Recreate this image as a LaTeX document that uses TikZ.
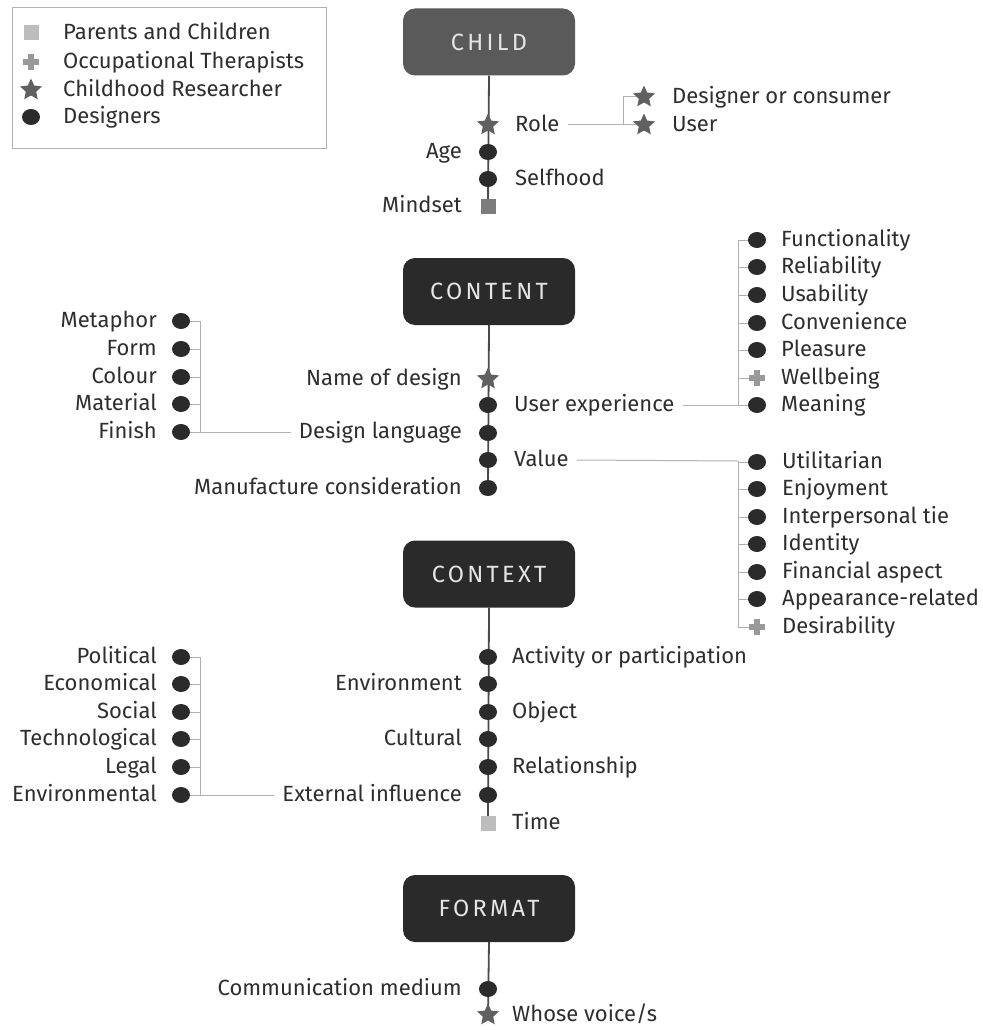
\documentclass[tikz,border=0pt]{standalone}
\usepackage{fontspec}
\setmainfont{Fira Sans}
\usetikzlibrary{shapes.geometric}
\pgfdeclarelayer{bg}
\pgfsetlayers{bg,main}
\definecolor{boxdark}{HTML}{2A2A2A}
\definecolor{boxgray}{HTML}{5A5A5A}
\definecolor{dotc}{HTML}{2B2B2B}
\definecolor{starc}{HTML}{606060}
\definecolor{plusc}{HTML}{999999}
\definecolor{sqlight}{HTML}{BDBDBD}
\definecolor{sqmid}{HTML}{7C7C7C}
\definecolor{spinec}{HTML}{4A4A4A}
\definecolor{branchc}{HTML}{B0B0B0}
\definecolor{txt}{HTML}{2E2E2E}
\begin{document}
\begin{tikzpicture}[x=1pt,y=-1pt,
  catbox/.style={rounded corners=12pt, fill=boxdark, minimum width=172pt, minimum height=67pt, inner sep=0pt,
    text=white!90!black, font=\fontsize{23.5}{26}\selectfont\addfontfeatures{LetterSpace=14}},
  dotm/.style={ellipse, fill=dotc, inner sep=0pt, minimum width=18pt, minimum height=16pt},
  starm/.style={star, star points=5, star point ratio=2.1, fill=starc, inner sep=0pt, minimum size=23pt},
  sqm/.style={rectangle, inner sep=0pt, minimum size=15pt, fill=#1},
  plusm/.style={rectangle, inner sep=0pt, minimum size=16pt,
    path picture={\fill[plusc] ([xshift=-3pt]path picture bounding box.south) rectangle ([xshift=3pt]path picture bounding box.north);
                  \fill[plusc] ([yshift=-3pt]path picture bounding box.west) rectangle ([yshift=3pt]path picture bounding box.east);}},
  lbl/.style={inner sep=0pt, text=txt, font=\fontsize{22}{25}\selectfont, text height=13pt, text depth=0pt},
  rl/.style={lbl, anchor=west},
  ll/.style={lbl, anchor=east},
  spine/.style={draw=spinec, line width=1.8pt},
  branch/.style={draw=branchc, line width=1pt}
]
\begin{pgfonlayer}{bg}
  \fill[white] (0,0) rectangle (982,1030);
\end{pgfonlayer}
\useasboundingbox (0,0) rectangle (982,1030);

% legend
\node[draw=black!30, line width=0.8pt, minimum width=314pt, minimum height=141pt, inner sep=0pt] (legend) at (169,77.5) {};
\node[sqm=sqlight] (lg1) at (31,33) {};
\node[plusm] (lg2) at (31,62) {};
\node[starm] (lg3) at (31,90) {};
\node[dotm] (lg4) at (31,117) {};
\node[rl] (lg1t) at (63,33) {Parents and Children};
\node[rl] (lg2t) at (63,62) {Occupational Therapists};
\node[rl] (lg3t) at (63,90) {Childhood Researcher};
\node[rl] (lg4t) at (63,117) {Designers};

% CHILD
\node[catbox, fill=boxgray] (child) at (489,42) {CHILD};
\node[starm] (role) at (488,125) {};
\node[dotm] (age) at (488,152) {};
\node[dotm] (self) at (488,179) {};
\node[sqm=sqmid] (mind) at (488,206) {};
\node[rl] (roleT) at (515,125) {Role};
\node[ll] (ageT) at (462,152) {Age};
\node[rl] (selfT) at (515,179) {Selfhood};
\node[ll] (mindT) at (462,206) {Mindset};
\coordinate (rj) at (623,125);
\node[starm] (dc) at (644,97) {};
\node[starm] (user) at (644,125) {};
\node[rl] (dcT) at (672,97) {Designer or consumer};
\node[rl] (userT) at (672,125) {User};

% CONTENT
\node[catbox] (content) at (489,291.5) {CONTENT};
\node[starm] (nod) at (488,379) {};
\node[dotm] (ux) at (488,405) {};
\node[dotm] (dl) at (488,433) {};
\node[dotm] (val) at (488,460) {};
\node[dotm] (mfr) at (488,488) {};
\node[ll] (nodT) at (462,379) {Name of design};
\node[rl] (uxT) at (514,405) {User experience};
\node[ll] (dlT) at (462,432) {Design language};
\node[rl] (valT) at (514,460) {Value};
\node[ll] (mfrT) at (462,488) {Manufacture consideration};

% design language group
\coordinate (fj) at (200,432);
\node[dotm] (met) at (181,321) {};
\node[dotm] (form) at (181,349) {};
\node[dotm] (col) at (181,377) {};
\node[dotm] (mat) at (181,404) {};
\node[dotm] (fin) at (181,432) {};
\node[ll] (metT) at (157,321) {Metaphor};
\node[ll] (formT) at (157,349) {Form};
\node[ll] (colT) at (157,377) {Colour};
\node[ll] (matT) at (157,404) {Material};
\node[ll] (finT) at (157,432) {Finish};

% user experience group
\coordinate (uj) at (738,405);
\node[dotm] (f1) at (757,240) {};
\node[dotm] (f2) at (757,267) {};
\node[dotm] (f3) at (757,295) {};
\node[dotm] (f4) at (757,323) {};
\node[dotm] (f5) at (757,350) {};
\node[plusm] (f6) at (757,378) {};
\node[dotm] (f7) at (757,405) {};
\node[rl] (f1T) at (781,240) {Functionality};
\node[rl] (f2T) at (781,267) {Reliability};
\node[rl] (f3T) at (781,295) {Usability};
\node[rl] (f4T) at (781,323) {Convenience};
\node[rl] (f5T) at (781,350) {Pleasure};
\node[rl] (f6T) at (781,378) {Wellbeing};
\node[rl] (f7T) at (781,405) {Meaning};

% value group
\coordinate (vj) at (738,461);
\node[dotm] (v1) at (757,462) {};
\node[dotm] (v2) at (757,489) {};
\node[dotm] (v3) at (757,517) {};
\node[dotm] (v4) at (757,544) {};
\node[dotm] (v5) at (757,572) {};
\node[dotm] (v6) at (757,599) {};
\node[plusm] (v7) at (757,627) {};
\node[rl] (v1T) at (782,462) {Utilitarian};
\node[rl] (v2T) at (782,489) {Enjoyment};
\node[rl] (v3T) at (782,517) {Interpersonal tie};
\node[rl] (v4T) at (782,544) {Identity};
\node[rl] (v5T) at (782,572) {Financial aspect};
\node[rl] (v6T) at (782,599) {Appearance-related};
\node[rl] (v7T) at (782,627) {Desirability};

% CONTEXT
\node[catbox] (context) at (489,574) {CONTEXT};
\node[dotm] (act) at (488,657) {};
\node[dotm] (env) at (488,684) {};
\node[dotm] (obj) at (488,712) {};
\node[dotm] (cul) at (488,739) {};
\node[dotm] (rel) at (488,767) {};
\node[dotm] (ext) at (488,795) {};
\node[sqm=sqlight] (time) at (488,823) {};
\node[rl] (actT) at (512,657) {Activity or participation};
\node[ll] (envT) at (462,684) {Environment};
\node[rl] (objT) at (512,712) {Object};
\node[ll] (culT) at (462,739) {Cultural};
\node[rl] (relT) at (512,767) {Relationship};
\node[ll] (extT) at (462,795) {External influence};
\node[rl] (timeT) at (512,823) {Time};

% external influence group
\coordinate (ej) at (200,795);
\node[dotm] (p1) at (181,657) {};
\node[dotm] (p2) at (181,684) {};
\node[dotm] (p3) at (181,712) {};
\node[dotm] (p4) at (181,739) {};
\node[dotm] (p5) at (181,767) {};
\node[dotm] (p6) at (181,795) {};
\node[ll] (p1T) at (157,657) {Political};
\node[ll] (p2T) at (157,684) {Economical};
\node[ll] (p3T) at (157,712) {Social};
\node[ll] (p4T) at (157,739) {Technological};
\node[ll] (p5T) at (157,767) {Legal};
\node[ll] (p6T) at (157,795) {Environmental};

% FORMAT
\node[catbox] (format) at (489,908.5) {FORMAT};
\node[dotm] (com) at (488,989) {};
\node[starm] (whose) at (488,1015) {};
\node[ll] (comT) at (462,989) {Communication medium};
\node[rl] (whoseT) at (512,1015) {Whose voice/s};

\begin{pgfonlayer}{bg}
  % spines
  \draw[spine] (child.south) -- (mind.center);
  \draw[spine] (content.south) -- (mfr.center);
  \draw[spine] (context.south) -- (time.center);
  \draw[spine] (format.south) -- (whose.center);
  % role branch
  \draw[branch] ([xshift=8pt]roleT.east) -- (rj);
  \draw[branch] (rj) |- (dc.center);
  \draw[branch] (rj) -- (user.center);
  % design language branch
  \draw[branch] (met.center) -| (fj);
  \foreach \n in {form,col,mat} \draw[branch] (\n.center) -- (\n.center -| fj);
  \draw[branch] (fin.center) -- ([xshift=-8pt]dlT.west);
  % user experience branch
  \draw[branch] ([xshift=8pt]uxT.east) -- (uj);
  \draw[branch] (uj) |- (f1.center);
  \foreach \n in {f2,f3,f4,f5,f6,f7} \draw[branch] (\n.center) -- (\n.center -| uj);
  % value branch
  \draw[branch] ([xshift=8pt]valT.east) -- (vj);
  \draw[branch] (vj) |- (v7.center);
  \foreach \n in {v1,v2,v3,v4,v5,v6} \draw[branch] (\n.center) -- (\n.center -| vj);
  % external influence branch
  \draw[branch] (p1.center) -| (ej);
  \foreach \n in {p2,p3,p4,p5} \draw[branch] (\n.center) -- (\n.center -| ej);
  \draw[branch] (p6.center) -- ([xshift=-8pt]extT.west);
\end{pgfonlayer}
\end{tikzpicture}
\end{document}
